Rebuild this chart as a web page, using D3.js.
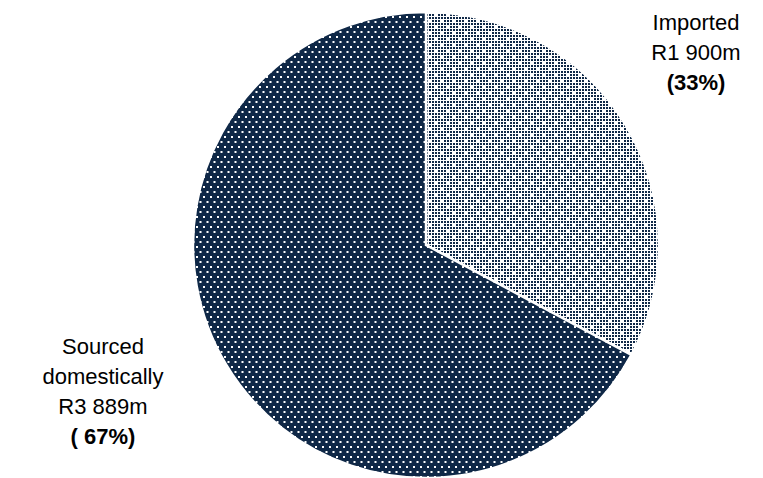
<!DOCTYPE html>
<html lang="en">
<head>
	<meta charset="utf-8">
	<title>Imported vs sourced domestically</title>
	<script src="https://d3js.org/d3.v7.min.js"></script>
	<style>
		body { margin: 0; background: #fff; }
		text { font-family: "Liberation Sans", Arial, sans-serif; fill: #000; }
	</style>
</head>
<body>
	<div id="chart"></div>
	<script>
		// values in R million
		let categories = ["Imported", "Sourced domestically"];
		let values = [1900, 3889];
		let labelLines = [["Imported", "R1 900m"], ["Sourced", "domestically", "R3 889m"]];
		let pctLabels = ["(33%)", "( 67%)"];

		let width = 763, height = 478;
		let cx = 426, cy = 245, radius = 233;
		let navy = "#0f2847";

		let svg = d3.select("#chart")
			.append("svg")
			.attr("width", width)
			.attr("height", height);

		let defs = svg.append("defs");

		// dark dotted pattern
		let pDark = defs.append("pattern")
			.attr("id", "dark")
			.attr("patternUnits", "userSpaceOnUse")
			.attr("width", 7).attr("height", 10);
		pDark.append("rect").attr("width", 7).attr("height", 10).attr("fill", navy);
		pDark.append("rect").attr("x", 1).attr("y", 1).attr("width", 2).attr("height", 2).attr("fill", "#fff");
		pDark.append("rect").attr("x", 4.5).attr("y", 6).attr("width", 2).attr("height", 2).attr("fill", "#fff");

		// light grid pattern: 2x2 navy blocks, a few left out to give white spots
		let pLight = defs.append("pattern")
			.attr("id", "light")
			.attr("patternUnits", "userSpaceOnUse")
			.attr("width", 12).attr("height", 12);
		pLight.append("rect").attr("width", 12).attr("height", 12).attr("fill", "#fff");
		for (let y = 0; y < 12; y += 3) {
			for (let x = 0; x < 12; x += 3) {
				if ((x === 3 && y === 3) || (x === 9 && y === 9)) continue;
				pLight.append("rect").attr("x", x).attr("y", y).attr("width", 2).attr("height", 2).attr("fill", navy);
			}
		}

		let fills = d3.scaleOrdinal().domain(categories).range(["url(#light)", "url(#dark)"]);

		let g = svg.append("g").attr("transform", "translate(" + cx + "," + cy + ")");

		let pie = d3.pie().sort(null);
		let arc = d3.arc().innerRadius(0).outerRadius(radius);

		g.selectAll("path")
			.data(pie(values))
			.enter()
			.append("path")
			.attr("d", arc)
			.attr("fill", (d, i) => fills(categories[i]))
			.attr("stroke", "#fff")
			.attr("stroke-width", 2.5)
			.attr("stroke-linejoin", "miter");

		// labels outside the pie
		let labelPos = [[696, 30], [103, 354]];
		let lineH = 30;

		labelLines.forEach(function(lines, i) {
			let t = svg.append("text")
				.attr("text-anchor", "middle")
				.attr("font-size", 22);
			lines.concat([pctLabels[i]]).forEach(function(s, j) {
				t.append("tspan")
					.attr("x", labelPos[i][0])
					.attr("y", labelPos[i][1] + j * lineH)
					.attr("font-weight", j === lines.length ? "bold" : "normal")
					.text(s);
			});
		});
	</script>
</body>
</html>
